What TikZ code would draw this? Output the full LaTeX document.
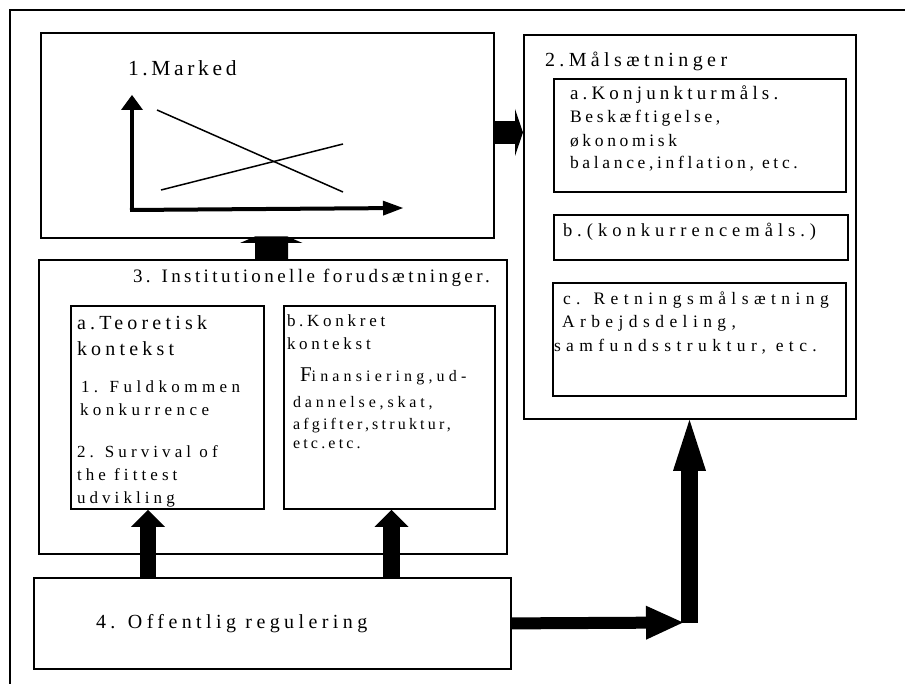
\documentclass[tikz,border=0pt]{standalone}
\usepackage{fontspec}
\setmainfont{Liberation Serif}
\usetikzlibrary{arrows.meta}
% text size and tracking in one go
\newcommand\txtsz[2]{\fontsize{#1}{#1}\selectfont\addfontfeature{LetterSpace=#2}}
\begin{document}
\begin{tikzpicture}[x=1pt,y=-1pt,
  box/.style={draw, line width=1.8pt, fill=white, rectangle, inner sep=0pt, anchor=north west},
  lbl/.style={anchor=base west, inner sep=0pt, outer sep=0pt},
  block/.style={line width=#1},
  axis/.style={line width=4pt},
  curve/.style={line width=1.5pt}]
\useasboundingbox (0,0) rectangle (905,684);

% outer frame, open to the right and below
\coordinate (frbl) at (10,700);
\coordinate (frtl) at (10,10);
\coordinate (frtr) at (920,10);
\draw[line width=2pt] (frbl) -- (frtl) -- (frtr);

% boxes
\node[box, minimum width=453pt, minimum height=205pt] (mk)   at (40,32) {};
\node[box, minimum width=332pt, minimum height=384pt] (ms)   at (523,34) {};
\node[box, minimum width=292pt, minimum height=113pt] (ka)   at (553,78) {};
\node[box, minimum width=294pt, minimum height=45pt]  (kb)   at (553,214) {};
\node[box, minimum width=293pt, minimum height=113pt] (kc)   at (552,282) {};
\node[box, minimum width=468pt, minimum height=294pt] (inst) at (38,259) {};
\node[box, minimum width=193pt, minimum height=203pt] (teo)  at (70,305) {};
\node[box, minimum width=211pt, minimum height=203pt] (kon)  at (283,305) {};
\node[box, minimum width=477pt, minimum height=91pt]  (reg)  at (33,577) {};

% market diagram
\coordinate (org) at (132,211);
\coordinate (ytop) at (132,95);
\coordinate (xstart) at (130,210);
\coordinate (xend) at (403,208);
\draw[axis, -{Triangle[length=15pt,width=22pt,line width=0pt]}] (org) -- (ytop);
\draw[axis, -{Triangle[length=20pt,width=15pt,line width=0pt]}] (xstart) -- (xend);
\coordinate (d1) at (157,110);
\coordinate (d2) at (343,192);
\coordinate (s1) at (161,190);
\coordinate (s2) at (343,144);
\draw[curve] (d1) -- (d2);
\draw[curve] (s1) -- (s2);

% block arrows
\coordinate (ma) at (0,132.5);
\draw[block=23pt, -{Triangle[length=8pt,width=47pt,line width=0pt]}] (mk.east |- ma) -- (ms.west |- ma);

\coordinate (up) at (271.5,0);
\fill[shift={(inst.north -| up)}] (-16.5,0) -- (-16.5,-16) -- (-31.5,-16) -- (-16.5,-22.5)
  -- (16,-22.5) -- (31,-16) -- (16.5,-16) -- (16.5,0) -- cycle;

\coordinate (la) at (148,0);
\coordinate (ra) at (391.5,0);
\draw[block=16pt, -{Triangle[length=17pt,width=34pt,line width=0pt]}] (reg.north -| la) -- (teo.south -| la);
\draw[block=17pt, -{Triangle[length=17pt,width=34pt,line width=0pt]}] (reg.north -| ra) -- (kon.south -| ra);

\coordinate (bend) at (683,622.5);
\coordinate (vb) at (689.5,622.5);
\draw[block=12pt, -{Triangle[length=37pt,width=34pt,line width=0pt]}] (reg.east) -- (bend);
\draw[block=17pt, -{Triangle[length=51pt,width=33pt,line width=0pt]}] (vb) -- (ms.south -| vb);

% labels
\node[lbl, font=\txtsz{21.5}{17}] (t1) at (128,76) {1.Marked};

\node[lbl, font=\txtsz{20}{22}] (t2) at (545,67) {2.Målsætninger};
\node[lbl, font=\txtsz{19}{22}] (t2a) at (570,100) {a.Konjunkturmåls.};
\node[lbl, font=\txtsz{17.5}{21}] (t2a1) at (570,123) {Beskæftigelse,};
\node[lbl, font=\txtsz{17.5}{21}] (t2a2) at (570,147) {økonomisk};
\node[lbl, font=\txtsz{17.5}{21}] (t2a3) at (570,169) {balance,inflation, etc.};
\node[lbl, font=\txtsz{18.5}{27}] (t2b) at (563,237) {b.(konkurrencemåls.)};
\node[lbl, font=\txtsz{17.5}{31}] (t2c) at (563,305) {c. Retningsmålsætning};
\node[lbl, font=\txtsz{17.5}{31}] (t2c1) at (562,328) {Arbejdsdeling,};
\node[lbl, font=\txtsz{17.5}{31}] (t2c2) at (554,352) {samfundsstruktur, etc.};

\node[lbl, font=\txtsz{19}{18}] (t3) at (133,283) {3. Institutionelle forudsætninger.};
\node[lbl, font=\txtsz{20}{21}] (t3a) at (77,330) {a.Teoretisk};
\node[lbl, font=\txtsz{20}{21}] (t3a1) at (77,356) {kontekst};
\node[lbl, font=\txtsz{17}{26}] (t3a2) at (81,393) {1. Fuldkommen};
\node[lbl, font=\txtsz{17}{26}] (t3a3) at (80,416) {konkurrence};
\node[lbl, font=\txtsz{17}{24}] (t3a4) at (77,457) {2. Survival of};
\node[lbl, font=\txtsz{17}{24}] (t3a5) at (77,480) {the fittest};
\node[lbl, font=\txtsz{17}{24}] (t3a6) at (77,503) {udvikling};
\node[lbl, font=\txtsz{17}{22}] (t3b) at (287,327) {b.Konkret};
\node[lbl, font=\txtsz{17}{22}] (t3b1) at (287,350) {kontekst};
\node[lbl, font=\txtsz{16}{26}] (t3b2) at (300,382) {{\txtsz{21}{12}F}inansiering,ud-};
\node[lbl, font=\txtsz{16}{24}] (t3b3) at (293,407) {dannelse,skat,};
\node[lbl, font=\txtsz{16}{20}] (t3b4) at (293,430) {afgifter,struktur,};
\node[lbl, font=\txtsz{16}{20}] (t3b5) at (293,449) {etc.etc.};

\node[lbl, font=\txtsz{20}{22}] (t4) at (96,628) {4. Offentlig regulering};
\end{tikzpicture}
\end{document}
